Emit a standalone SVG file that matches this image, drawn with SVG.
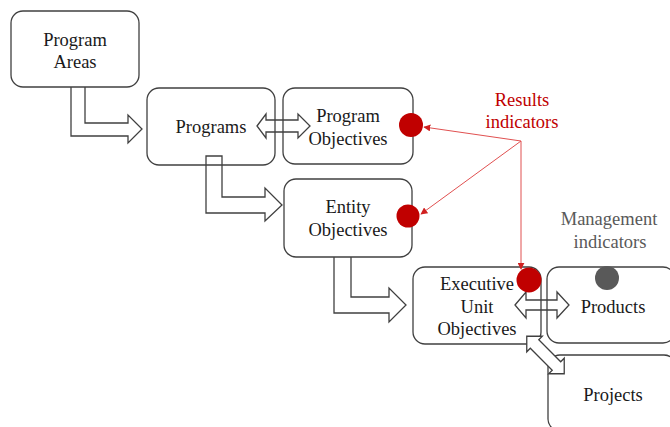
<svg xmlns="http://www.w3.org/2000/svg" width="670" height="427" viewBox="0 0 670 427">
<style>
.box{fill:none;stroke:#404040;stroke-width:1.3}
.blk{fill:none;stroke:#404040;stroke-width:1.3;stroke-linejoin:miter}
.blkw{fill:#fff;stroke:#404040;stroke-width:1.3;stroke-linejoin:miter}
.t{font-family:"Liberation Serif","Times New Roman",serif;font-size:18.5px;fill:#1a1a1a;text-anchor:middle}
.red{fill:#c00000}
.rt{font-family:"Liberation Serif","Times New Roman",serif;font-size:18.5px;fill:#c00000;text-anchor:middle}
.gt{font-family:"Liberation Serif","Times New Roman",serif;font-size:18.5px;fill:#595959;text-anchor:middle}
.rl{fill:none;stroke:#e05050;stroke-width:1;marker-end:url(#ah)}
</style>
<defs>
<marker id="ah" viewBox="0 0 10 10" refX="9" refY="5" markerWidth="7" markerHeight="7" markerUnits="userSpaceOnUse" orient="auto">
<path d="M0,0 L10,5 L0,10 Z" fill="#d02020"/>
</marker>
</defs>
<rect width="670" height="427" fill="#fff"/>
<g id="connectors">
<path class="blk" d="M85,87 V123 H128 V115 L142,129 L128,143 V136 H71 V87"/>
<path class="blk" d="M222,156 V197 H265 V188 L282,205 L265,221 V213 H206 V156 Z"/>
<path class="blk" d="M351,257 V297 H389 V288 L406,305 L389,322 V313 H334 V257"/>
<path class="blk" d="M257,126 L266,114 V120 H298 V114 L310,126 L298,138 V132 H266 V138 Z"/>
<path class="blk" d="M515,305 L526,292 V300 H557 V292 L569,305 L557,318 V310 H526 V318 Z"/>
</g>
<g id="program-areas"><rect class="box" x="11" y="11" width="128" height="76" rx="12"/><text class="t" x="75" y="46">Program</text><text class="t" x="75" y="68">Areas</text></g>
<g id="programs"><rect class="box" x="147" y="88" width="128" height="77" rx="12"/><text class="t" x="211" y="133">Programs</text></g>
<g id="program-objectives"><rect class="box" x="283" y="88" width="130" height="76" rx="12"/><text class="t" x="348" y="122">Program</text><text class="t" x="348" y="145">Objectives</text></g>
<g id="entity-objectives"><rect class="box" x="284" y="179" width="128" height="78" rx="12"/><text class="t" x="348" y="213">Entity</text><text class="t" x="348" y="236">Objectives</text></g>
<g id="executive-unit-objectives"><rect class="box" x="413" y="267" width="128" height="77" rx="12"/><text class="t" x="477" y="290">Executive</text><text class="t" x="477" y="313">Unit</text><text class="t" x="477" y="335">Objectives</text></g>
<g id="products"><rect class="box" x="547" y="267" width="128" height="76" rx="12"/><text class="t" x="613" y="313">Products</text></g>
<g id="projects"><rect class="box" x="548" y="355" width="128" height="76" rx="12"/><text class="t" x="613" y="401">Projects</text></g>
<g id="diag-arrow"><path class="blkw" transform="translate(545.5,355) rotate(45)" d="M-26.5,0 L-15.5,-11 V-6 H15.5 V-11 L26.5,0 L15.5,11 V6 H-15.5 V11 Z"/></g>
<g id="results-indicators"><text class="rt" x="522" y="106">Results</text><text class="rt" x="522" y="128">indicators</text></g>
<g id="management-indicators"><text class="gt" x="609" y="225">Management</text><text class="gt" x="610" y="248">indicators</text></g>
<g id="indicator-links">
<path class="rl" d="M521,141 L424,127"/>
<path class="rl" d="M521,141 L421,214"/>
<path class="rl" d="M521,141 V269"/>
</g>
<g id="dots">
<circle class="red" cx="411" cy="125" r="12"/>
<circle class="red" cx="408" cy="216" r="11.5"/>
<circle class="red" cx="529" cy="280" r="12.5"/>
<circle cx="607" cy="278" r="12" fill="#595959"/>
</g>
</svg>
